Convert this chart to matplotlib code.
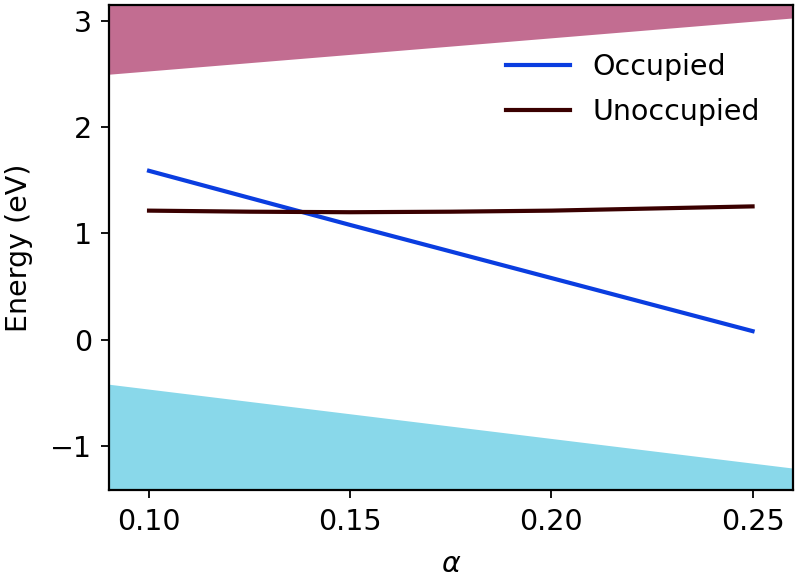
import numpy as np
import matplotlib.pyplot as plt

# band edges (eV) vs alpha
alpha_band = [0.09, 0.26]
cbm = [2.50, 3.03]
vbm = [-0.42, -1.21]

# defect levels
alpha = [0.10, 0.125, 0.15, 0.175, 0.20, 0.225, 0.25]
occupied = [1.59, 1.335, 1.08, 0.83, 0.58, 0.33, 0.08]
unoccupied = [1.215, 1.205, 1.20, 1.205, 1.215, 1.235, 1.255]

fs = 20.5
fig, ax = plt.subplots(figsize=(8, 5.79), dpi=100)
fig.subplots_adjust(left=0.136, right=0.991, bottom=0.154, top=0.991)

ax.fill_between(alpha_band, cbm, 5, color='#c26d91', lw=0)
ax.fill_between(alpha_band, vbm, -5, color='#89d8ea', lw=0)
ax.plot(alpha, occupied, color='#0a3de0', lw=3, label='Occupied')
ax.plot(alpha, unoccupied, color='#3a0000', lw=3, label='Unoccupied')

ax.set_xlim(0.09, 0.26)
ax.set_ylim(-1.415, 3.15)
ax.set_xticks([0.10, 0.15, 0.20, 0.25])
ax.set_yticks([-1, 0, 1, 2, 3])
ax.set_xlabel(r'$\alpha$', fontsize=fs, labelpad=10)
ax.set_ylabel('Energy (eV)', fontsize=fs, labelpad=12)
ax.tick_params(axis='x', labelsize=fs, width=1.3, length=6, pad=7)
ax.tick_params(axis='y', labelsize=fs, width=1.3, length=6, pad=6)
for s in ax.spines.values():
    s.set_linewidth(1.6)

ax.legend(frameon=False, fontsize=fs, loc='upper right', handlelength=2.25,
          labelspacing=0.6, bbox_to_anchor=(0.99, 0.955))

plt.savefig('out.png')
